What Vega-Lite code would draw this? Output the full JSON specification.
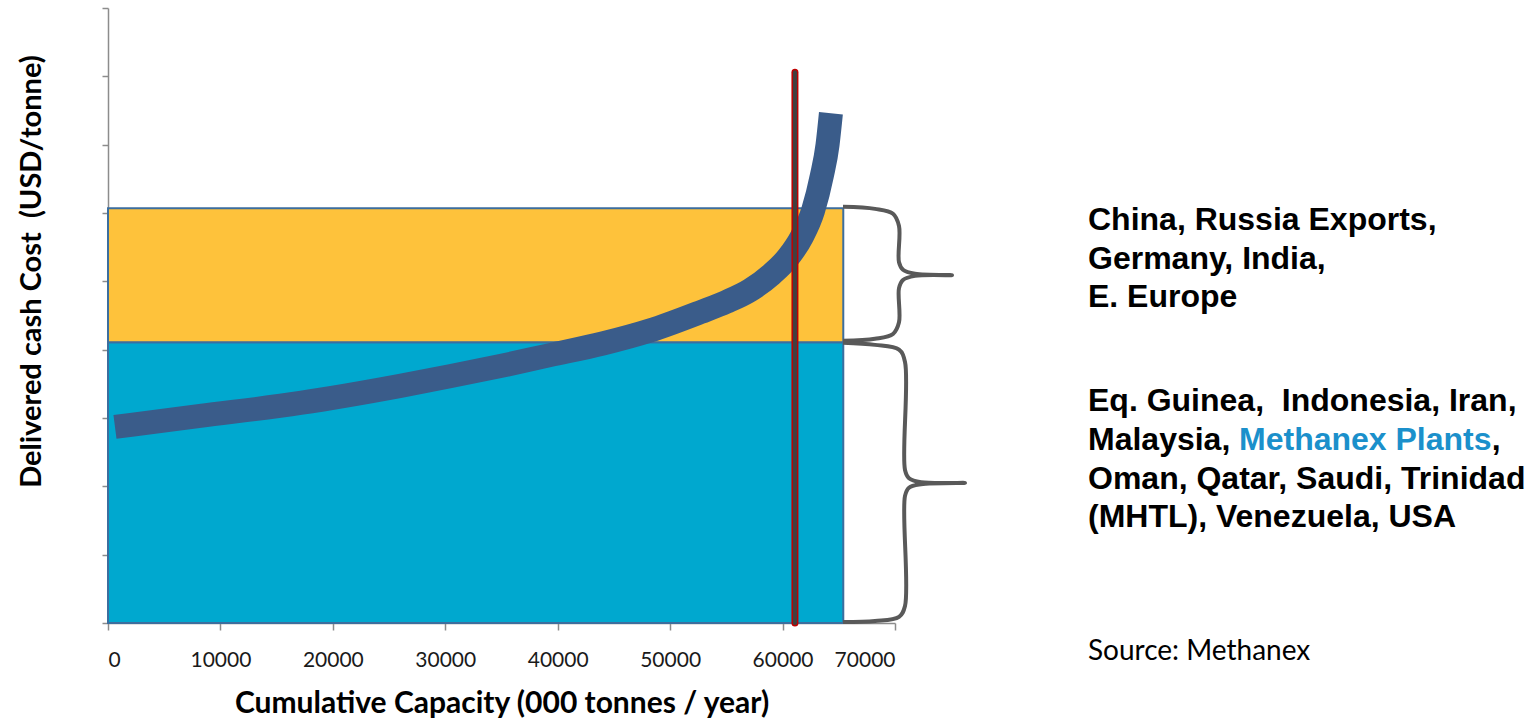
{
  "$schema": "https://vega.github.io/schema/vega-lite/v6.json",
  "autosize": {"type": "none"},
  "width": 787,
  "height": 615,
  "padding": {"left": 108, "top": 8, "right": 634, "bottom": 95},
  "background": "white",
  "config": {"view": {"stroke": null}, "font": "Lato"},
  "datasets": {
    "bands": [
      {"band": "low", "x0": 0, "x1": 65400, "y0": 0, "y1": 411},
      {"band": "high", "x0": 0, "x1": 65400, "y0": 411, "y1": 607}
    ],
    "curve": [
      {"cap": 620, "cost": 287},
      {"cap": 8200, "cost": 303},
      {"cap": 17100, "cost": 322},
      {"cap": 26000, "cost": 347},
      {"cap": 30400, "cost": 361},
      {"cap": 34900, "cost": 376},
      {"cap": 39300, "cost": 392},
      {"cap": 44000, "cost": 409},
      {"cap": 48200, "cost": 428},
      {"cap": 52700, "cost": 455},
      {"cap": 55000, "cost": 470},
      {"cap": 57100, "cost": 487},
      {"cap": 59000, "cost": 510},
      {"cap": 60500, "cost": 535},
      {"cap": 61700, "cost": 565},
      {"cap": 62700, "cost": 603},
      {"cap": 63500, "cost": 655},
      {"cap": 64000, "cost": 700},
      {"cap": 64300, "cost": 746}
    ],
    "capacity": [{"cap": 61100, "lo": 0, "hi": 806}],
    "braces": [
      {"brace": "upper", "i": 0, "x": 65375, "y": 609},
      {"brace": "upper", "i": 1, "x": 68221, "y": 606},
      {"brace": "upper", "i": 2, "x": 69822, "y": 599},
      {"brace": "upper", "i": 3, "x": 70356, "y": 581},
      {"brace": "upper", "i": 4, "x": 70356, "y": 528},
      {"brace": "upper", "i": 5, "x": 70712, "y": 517},
      {"brace": "upper", "i": 6, "x": 71779, "y": 511},
      {"brace": "upper", "i": 7, "x": 75070, "y": 509},
      {"brace": "upper", "i": 8, "x": 71779, "y": 508},
      {"brace": "upper", "i": 9, "x": 70712, "y": 502},
      {"brace": "upper", "i": 10, "x": 70356, "y": 490},
      {"brace": "upper", "i": 11, "x": 70356, "y": 440},
      {"brace": "upper", "i": 12, "x": 69822, "y": 423},
      {"brace": "upper", "i": 13, "x": 68221, "y": 416},
      {"brace": "upper", "i": 14, "x": 65375, "y": 413},
      {"brace": "lower", "i": 0, "x": 65375, "y": 410},
      {"brace": "lower", "i": 1, "x": 68221, "y": 407},
      {"brace": "lower", "i": 2, "x": 70356, "y": 400},
      {"brace": "lower", "i": 3, "x": 70890, "y": 382},
      {"brace": "lower", "i": 4, "x": 70890, "y": 224},
      {"brace": "lower", "i": 5, "x": 71245, "y": 212},
      {"brace": "lower", "i": 6, "x": 72313, "y": 206},
      {"brace": "lower", "i": 7, "x": 76226, "y": 205},
      {"brace": "lower", "i": 8, "x": 72313, "y": 203},
      {"brace": "lower", "i": 9, "x": 71245, "y": 198},
      {"brace": "lower", "i": 10, "x": 70890, "y": 186},
      {"brace": "lower", "i": 11, "x": 70890, "y": 25},
      {"brace": "lower", "i": 12, "x": 70356, "y": 9},
      {"brace": "lower", "i": 13, "x": 68221, "y": 3},
      {"brace": "lower", "i": 14, "x": 65375, "y": 1.5}
    ],
    "notes": [
      {"tone": "main", "text": "China, Russia Exports,", "x": 87166, "y": 575},
      {"tone": "main", "text": "Germany, India,", "x": 87166, "y": 518},
      {"tone": "main", "text": "E. Europe", "x": 87166, "y": 462},
      {"tone": "main", "text": "Eq. Guinea, \u00a0Indonesia, Iran,", "x": 87166, "y": 310},
      {"tone": "main", "text": "Malaysia,", "x": 87166, "y": 253},
      {"tone": "accent", "text": "Methanex Plants", "x": 100600, "y": 253},
      {"tone": "main", "text": ",", "x": 123080, "y": 253},
      {"tone": "main", "text": "Oman, Qatar, Saudi, Trinidad", "x": 87166, "y": 196},
      {"tone": "main", "text": "(MHTL), Venezuela, USA", "x": 87166, "y": 140},
      {"tone": "source", "text": "Source: Methanex", "x": 87166, "y": -42}
    ]
  },
  "layer": [
    {
      "data": {"name": "bands"},
      "mark": {"type": "rect", "stroke": "#3C6E9E", "strokeWidth": 2},
      "encoding": {
        "x": {
          "field": "x0", "type": "quantitative",
          "scale": {"domain": [0, 70000], "nice": false, "zero": false},
          "axis": {
            "values": [0, 10000, 20000, 30000, 40000, 50000, 60000, 70000],
            "format": "d",
            "title": "Cumulative Capacity (000 tonnes / year)",
            "grid": false,
            "domainColor": "#8C8C8C", "domainWidth": 1.5,
            "tickColor": "#8C8C8C", "tickSize": 7, "tickWidth": 1.5,
            "labelFont": "Lato", "labelFontSize": 21, "labelColor": "#1a1a1a", "labelPadding": 19,
            "labelOverlap": false,
            "titleFont": "Lato", "titleFontSize": 30, "titleFontWeight": "bold", "titleColor": "#000000",
            "titleY": 80, "titleBaseline": "middle"
          }
        },
        "x2": {"field": "x1"},
        "y": {
          "field": "y0", "type": "quantitative",
          "scale": {"domain": [0, 900], "nice": false},
          "axis": {
            "values": [0, 100, 200, 300, 400, 500, 600, 700, 800, 900],
            "labels": false,
            "title": "Delivered cash Cost \u00a0(USD/tonne)",
            "grid": false,
            "domainColor": "#8C8C8C", "domainWidth": 1.5,
            "tickColor": "#8C8C8C", "tickSize": 6, "tickWidth": 1.5,
            "titleFont": "Lato", "titleFontSize": 29, "titleFontWeight": "bold", "titleColor": "#000000",
            "titleAngle": -90, "titleX": -77, "titleY": 263, "titleBaseline": "middle", "titleAlign": "center"
          }
        },
        "y2": {"field": "y1"},
        "color": {
          "field": "band", "type": "nominal",
          "scale": {"domain": ["low", "high"], "range": ["#00A8CF", "#FEC23B"]},
          "legend": null
        }
      }
    },
    {
      "data": {"name": "curve"},
      "mark": {"type": "line", "color": "#3A5C8A", "strokeWidth": 24, "interpolate": "monotone", "strokeCap": "butt"},
      "encoding": {
        "x": {"field": "cap", "type": "quantitative"},
        "y": {"field": "cost", "type": "quantitative"}
      }
    },
    {
      "data": {"name": "capacity"},
      "mark": {"type": "rule", "color": "#C00000", "strokeWidth": 7, "strokeCap": "round"},
      "encoding": {
        "x": {"field": "cap", "type": "quantitative"},
        "y": {"field": "lo", "type": "quantitative"},
        "y2": {"field": "hi"}
      }
    },
    {
      "data": {"name": "capacity"},
      "mark": {"type": "rule", "color": "#404040", "strokeWidth": 4, "strokeCap": "round"},
      "encoding": {
        "x": {"field": "cap", "type": "quantitative"},
        "y": {"field": "lo", "type": "quantitative"},
        "y2": {"field": "hi"}
      }
    },
    {
      "data": {"name": "braces"},
      "mark": {"type": "line", "color": "#595959", "strokeWidth": 4, "interpolate": "catmull-rom", "clip": false},
      "encoding": {
        "x": {"field": "x", "type": "quantitative"},
        "y": {"field": "y", "type": "quantitative"},
        "detail": {"field": "brace"},
        "order": {"field": "i", "type": "quantitative"}
      }
    },
    {
      "data": {"name": "notes"},
      "transform": [{"filter": "datum.tone == 'main'"}],
      "mark": {"type": "text", "align": "left", "baseline": "alphabetic", "font": "Liberation Sans", "fontWeight": "bold", "fontSize": 32, "color": "#000000", "clip": false},
      "encoding": {
        "x": {"field": "x", "type": "quantitative"},
        "y": {"field": "y", "type": "quantitative"},
        "text": {"field": "text"}
      }
    },
    {
      "data": {"name": "notes"},
      "transform": [{"filter": "datum.tone == 'accent'"}],
      "mark": {"type": "text", "align": "left", "baseline": "alphabetic", "font": "Liberation Sans", "fontWeight": "bold", "fontSize": 32, "color": "#1B90CB", "clip": false},
      "encoding": {
        "x": {"field": "x", "type": "quantitative"},
        "y": {"field": "y", "type": "quantitative"},
        "text": {"field": "text"}
      }
    },
    {
      "data": {"name": "notes"},
      "transform": [{"filter": "datum.tone == 'source'"}],
      "mark": {"type": "text", "align": "left", "baseline": "middle", "font": "Lato", "fontSize": 28, "color": "#000000", "clip": false},
      "encoding": {
        "x": {"field": "x", "type": "quantitative"},
        "y": {"field": "y", "type": "quantitative"},
        "text": {"field": "text"}
      }
    }
  ]
}
